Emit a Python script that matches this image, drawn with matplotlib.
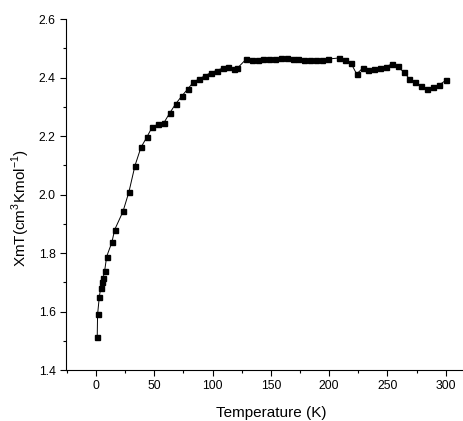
import matplotlib
matplotlib.use("Agg")
import matplotlib.pyplot as plt
from matplotlib.ticker import MultipleLocator, FormatStrFormatter

temperature = [1.1, 1.4, 2.9, 4.0, 5.0, 6.0, 7.4, 9.2, 13.7, 16.0, 23.2, 28.3, 33.5, 38.6,
               43.5, 48.3, 53.5, 58.4, 63.5, 68.6, 73.5, 78.6, 83.5, 88.7, 93.5, 98.7,
               103.5, 108.7, 113.5, 118.7, 121.3, 128.7, 133.6, 138.7, 143.5, 148.7,
               153.6, 158.7, 163.6, 168.7, 173.6, 178.7, 183.6, 188.7, 193.6, 198.8,
               208.8, 213.9, 218.8, 223.6, 228.8, 233.7, 238.8, 243.7, 248.9, 254.0,
               258.8, 263.9, 268.8, 274.0, 278.9, 284.0, 288.8, 293.9, 300.3]
xmt = [1.513, 1.590, 1.650, 1.679, 1.700, 1.713, 1.737, 1.788, 1.837, 1.879, 1.942, 2.009,
       2.099, 2.161, 2.195, 2.231, 2.241, 2.246, 2.280, 2.311, 2.336, 2.360, 2.384, 2.396,
       2.406, 2.417, 2.424, 2.432, 2.435, 2.429, 2.432, 2.462, 2.460, 2.461, 2.462, 2.462,
       2.462, 2.467, 2.468, 2.465, 2.462, 2.461, 2.459, 2.459, 2.459, 2.463, 2.467, 2.460,
       2.449, 2.412, 2.432, 2.427, 2.428, 2.432, 2.437, 2.447, 2.438, 2.419, 2.396, 2.383,
       2.372, 2.362, 2.367, 2.373, 2.391]

x_label = "Temperature (K)"
y_label = r"XmT(cm$^3$Kmol$^{-1}$)"

plt.rcParams['font.family'] = ['Liberation Sans', 'DejaVu Sans']
plt.rcParams['mathtext.fontset'] = 'custom'
plt.rcParams['mathtext.rm'] = 'Liberation Sans'

fig = plt.figure(figsize=(4.64, 4.21), dpi=100)
ax = fig.add_axes([0.1422, 0.1211, 0.8578, 0.8337])

ax.plot(temperature, xmt, color='black', linewidth=0.7, marker='s',
        markersize=3.6, markerfacecolor='black', markeredgecolor='black')

ax.set_xlim(-25.7, 315.7)
ax.set_ylim(1.4, 2.6)
ax.xaxis.set_major_locator(MultipleLocator(50))
ax.xaxis.set_minor_locator(MultipleLocator(25))
ax.yaxis.set_major_locator(MultipleLocator(0.2))
ax.yaxis.set_minor_locator(MultipleLocator(0.1))
ax.yaxis.set_major_formatter(FormatStrFormatter('%.1f'))

ax.spines['top'].set_visible(False)
ax.spines['right'].set_visible(False)
for s in ('left', 'bottom'):
    ax.spines[s].set_linewidth(0.8)

ax.tick_params(which='major', direction='out', length=4.2, width=0.8, labelsize=8.8, pad=3.2)
ax.tick_params(which='minor', direction='out', length=2.2, width=0.8)

ax.set_xlabel(x_label, fontsize=11)
ax.set_ylabel(y_label, fontsize=11)
ax.xaxis.set_label_coords(0.515, -0.103)
ax.yaxis.set_label_coords(-0.086, 0.462)

fig.savefig("out.png", dpi=100)
